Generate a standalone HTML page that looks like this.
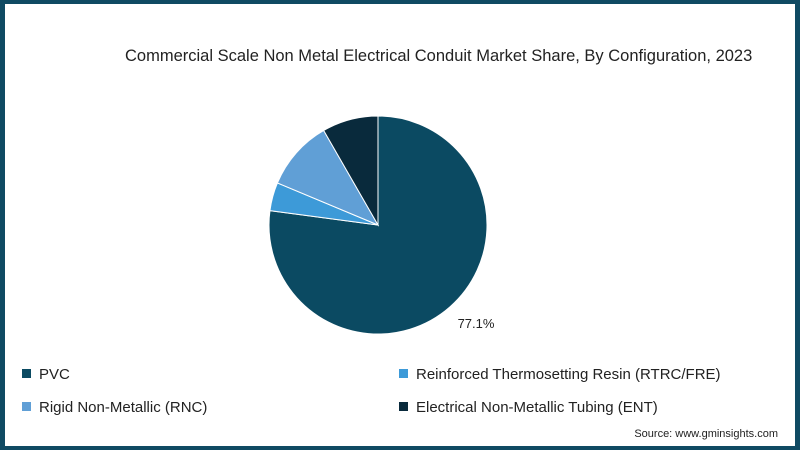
<!DOCTYPE html>
<html><head><meta charset="utf-8"><style>
html,body{margin:0;padding:0}
body{width:800px;height:450px;overflow:hidden;font-family:"Liberation Sans",sans-serif}
#frame{position:absolute;left:0;top:0;width:790px;height:442px;border:4px solid #0f4a63;border-left-width:5px;border-right-width:5px;background:#fff}
.t{position:absolute;color:#222}
.leg{position:absolute;font-size:15px;color:#222;white-space:nowrap}
.leg i{display:inline-block;width:9px;height:9px;margin-right:8px;vertical-align:1px}
</style></head><body>
<div id="frame"></div>
<div class="t" style="left:125px;width:625px;text-align:center;top:47px;font-size:16.5px;white-space:nowrap">Commercial Scale Non Metal Electrical Conduit Market Share, By Configuration, 2023</div>
<svg id="pie" width="800" height="450" style="position:absolute;left:0;top:0"></svg>
<div class="leg" style="left:22px;top:366px"><i style="background:#0b4a62"></i>PVC</div>
<div class="leg" style="left:399px;top:366px"><i style="background:#3d9ad8"></i>Reinforced Thermosetting Resin (RTRC/FRE)</div>
<div class="leg" style="left:22px;top:399px"><i style="background:#609fd6"></i>Rigid Non-Metallic (RNC)</div>
<div class="leg" style="left:399px;top:399px"><i style="background:#092a3c"></i>Electrical Non-Metallic Tubing (ENT)</div>
<div class="t" style="right:22px;top:428px;font-size:11px">Source: www.gminsights.com</div>
<script>
const categories=["PVC","RTRC/FRE","RNC","ENT"];
const shares=[77.1,4.2,10.4,8.3];
const colors=["#0b4a62","#3d9ad8","#609fd6","#092a3c"];
const labels=["77.1%","","",""];
const svg=document.getElementById('pie');
const NS="http://www.w3.org/2000/svg";
const cx=378,cy=225,r=109;
const total=shares.reduce((a,b)=>a+b,0);
let a0=0;
shares.forEach((v,i)=>{
  const a1=a0+v/total*2*Math.PI;
  const p=(a)=>[cx+r*Math.sin(a),cy-r*Math.cos(a)];
  const [x0,y0]=p(a0),[x1,y1]=p(a1);
  const path=document.createElementNS(NS,'path');
  path.setAttribute('d',`M${cx},${cy}L${x0},${y0}A${r},${r} 0 ${a1-a0>Math.PI?1:0} 1 ${x1},${y1}Z`);
  path.setAttribute('fill',colors[i]);
  path.setAttribute('stroke','#fff');
  path.setAttribute('stroke-width','1');
  
  
  svg.appendChild(path);
  if(labels[i]){
    const t=document.createElementNS(NS,'text');
    t.setAttribute('x',476);t.setAttribute('y',328);
    t.setAttribute('text-anchor','middle');t.setAttribute('font-size','13');t.setAttribute('fill','#222');
    t.setAttribute('font-family','Liberation Sans, sans-serif');
    
    
    t.textContent=labels[i];svg.appendChild(t);
  }
  a0=a1;
});
</script>
</body></html>
